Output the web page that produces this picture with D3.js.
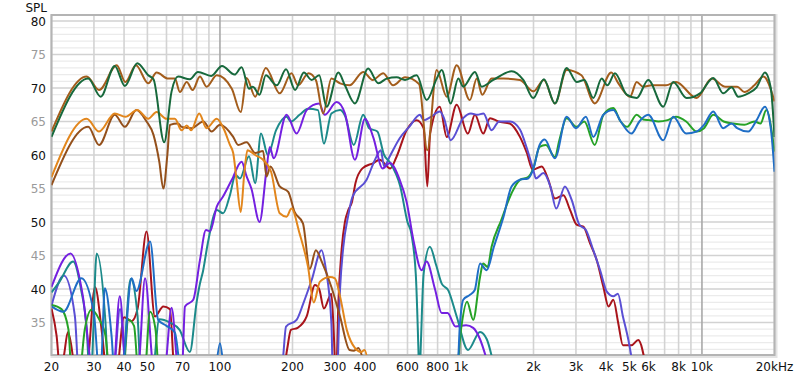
<!DOCTYPE html>
<html>
<head>
<script src="https://cdn.jsdelivr.net/npm/d3@7"></script>
<style>body{margin:0;background:#fff}</style>
</head>
<body>
<svg id="chart" width="800" height="378"></svg>
<script>
// grid + tick data
var gridFreqs = [20,30,40,50,60,70,80,90,100,200,300,400,500,600,700,800,900,1000,
  2000,3000,4000,5000,6000,7000,8000,9000,10000,20000];
var decadeFreqs = [100, 1000, 10000];
var xLabelFreqs = [20,30,40,50,70,100,200,300,400,600,800,1000,2000,3000,4000,5000,6000,8000,10000,20000];
var xLabelTexts = ["20","30","40","50","70","100","200","300","400","600","800","1k","2k","3k","4k","5k","6k","8k","10k","20kHz"];
var yLabels = [80,75,70,65,60,55,50,45,40,35];

// series: [Hz, dB SPL]
var sumGreen = [[20,62.7],[28.4,71.4],[32,68.7],[36.6,73.3],[40.3,70.3],[45.4,73.7],[50.4,71.9],[53,71.3],
  [58.7,61.9],[63,69.5],[67,71.7],[75,71.3],[81,72.4],[92,71.8],[102,73.3],[115,72.0],[123,73.1],[132,69.9],
  [137,70.2],[146,69.0],[155,71.9],[172,70.4],[188,72.8],[205,69.7],[223,72.3],[240,71.2],[258,71.9],[277,67.2],
  [310,72.3],[330,70.4],[363,67.7],[412,72.9],[454,70.7],[492,71.4],[541,71.6],[586,71.2],[655,71.9],[721,68.2],
  [793,71.4],[832,72.7],[907,67.7],[975,71.4],[1022,70.2],[1143,72.4],[1219,70.2],[1362,71.2],[1622,72.5],
  [1814,71.2],[1996,68.5],[2209,71.3],[2454,67.7],[2745,73.0],[3020,70.9],[3250,71.2],[3541,68.5],[3837,71.4],
  [4050,70.4],[4356,72.2],[4873,69.0],[5360,68.5],[5987,71.2],[6910,67.2],[7600,70.9],[8635,68.5],[9815,69.2],
  [11140,71.5],[12250,69.2],[13280,70.1],[14130,68.7],[15550,69.2],[16860,70.1],[18250,72.3],[19300,70.0],[20000,62.7]];

var sumBrown = [[20,63.5],[28,71.7],[31.5,69.7],[37.3,73.4],[40.5,70.9],[44.8,73.4],[50.4,70.7],[54.6,72.3],
  [61,71.4],[65,71.4],[68.2,69.4],[72.8,70.9],[77,69.7],[82.6,71.7],[88,70.2],[97,71.9],[112,69.9],[122,66.4],
  [129,71.5],[140,68.7],[155,73.0],[177,69.2],[198,72.2],[211,70.4],[233,72.2],[250,71.2],[268,66.2],[290,71.4],
  [315,70.7],[345,70.4],[393,72.4],[430,71.2],[476,72.2],[523,70.4],[586,71.6],[670,70.6],[725,60.7],[793,72.7],
  [873,68.7],[960,73.4],[1089,68.2],[1163,71.4],[1226,69.0],[1340,71.4],[1500,71.4],[1757,71.2],[1996,69.5],
  [2209,71.2],[2454,67.7],[2745,72.7],[3162,71.9],[3590,67.7],[4206,72.3],[4500,70.7],[5030,68.7],[5360,70.9],
  [5700,70.2],[6200,70.4],[7100,70.4],[7800,70.9],[9500,68.5],[10990,71.4],[12500,70.2],[14000,70.2],[15000,69.4],
  [16500,70.4],[18000,71.7],[20000,68.0]];

var wooferOrange = [[20,56.7],[28,65.4],[31.5,63.5],[36.6,66.2],[40.5,65.7],[45.4,66.7],[50.4,65.4],[54.6,66.4],
  [60,65.4],[65,65.4],[69.3,63.7],[72.8,64.4],[76,63.7],[82,66.2],[88,64.0],[97,65.4],[104,63.8],[110,61.5],
  [113.5,60.3],[117,56.5],[122,51.5],[126,57],[130,60.7],[140,60.0],[151,59.3],[163,57.5],[177,51.3],[189,50.8],
  [198,52.0],[214,48.3],[232,43.3],[245,38.0],[260,41.1],[286,41.8],[300,41.6],[315,38.9],[336,33.9],[363,31.2],
  [385,30.6],[398,30.9],[420,26]];

var wooferBrown = [[20,55.5],[28.4,64.2],[31.5,61.5],[36.6,66.0],[40.3,64.2],[45,66.7],[49.6,65.0],[53,63],
  [56,59],[58.2,55.0],[60.5,60],[62,64.5],[67,64.7],[69.3,64.2],[76.3,64.0],[85.3,65.0],[92.4,63.5],[100,64.5],
  [113.5,62.7],[119,61.5],[129,61.9],[140,60.3],[151,60.6],[156,56.8],[162,58.3],[177,55.3],[192,54.5],[204,51.5],
  [221,49.8],[236,43.0],[250,45.8],[265,44.0],[290,40.3],[315,35.9],[345,30.9],[360,30.8],[375,31.2],[395,29]];

var midPurple = [[20,40.3],[24,45.3],[27,38.9],[29.5,28],[33,26],[36,27],[38.4,38.9],[41,27],[44,26],[45.9,28],
  [48.9,41.6],[52.9,28],[56,26],[59.2,28],[63,37.2],[67,28],[69.4,27],[71.6,37.4],[77.5,38.4],[82.6,44.3],
  [87.5,48.8],[91,48.6],[97,52.3],[103,53.8],[112,56.3],[123,59.0],[129,56.8],[135,55.0],[146,50.0],[156,57.8],
  [161,61.2],[167,59.5],[189,66.0],[208,63.2],[229,66.7],[258,67.7],[272,66.0],[305,67.9],[330,66.2],[363,59.3],
  [400,65.4],[433,62.6],[473,58.0],[507,58.8],[557,56.3],[595,53],[635,47.3],[687,42.8],[720,44.1],[780,40],
  [832,36.4],[880,36.4],[950,34.4],[1050,34.6],[1124,34.2],[1200,32.5],[1290,29]];

var midTeal = [[20,39.5],[21.5,41],[24.6,44.1],[26.5,40],[28,34],[28.8,27],[29.3,28],[30.8,45.3],[33.5,35],
  [34.5,27],[38,26],[39.5,28],[42.6,41.5],[45.5,36],[47,27],[52,26],[56,35.5],[62,35],[68,33.9],[75,30.6],
  [80,38],[82.6,40.8],[85,42.6],[89,46.8],[97,51.8],[103,51.3],[110,54],[116,57.0],[121,56.5],[132,59.8],
  [140,55.8],[148,63.2],[158,60.0],[171,63.7],[189,65.7],[197,65.0],[214,66.0],[232,66.9],[255,66.7],[270,61.7],
  [290,66.2],[315,66.7],[330,65.9],[359,61.5],[393,66.0],[416,64.0],[450,63.5],[480,60.0],[505,59.0],[560,55.3],
  [600,50],[622,48.3],[650,42],[666,31],[672,26],[682,32],[700,42.3],[743,46.3],[790,43.5],[832,40.8],[886,39.8],
  [960,35.9],[1070,30.9],[1200,33.6],[1280,32.5],[1380,28]];

var midRed = [[20,37.1],[21,33],[21.7,28],[22.5,30],[23.4,33.6],[24.5,30],[25,27],[28,28],[30.3,40.3],[32.5,33],
  [34,27],[37,27],[40,35.8],[43,35.2],[45.5,37],[49.6,48.6],[53.7,35.9],[58.2,37.4],[62,37.0],[65,27],[100,25],
  [180,26],[190,31],[197,33.9],[210,34.2],[229,35.9],[248,40.6],[258,40.0],[270,37.1],[290,39.3],[297,33],
  [303,26],[310,38],[320,46],[330,50],[341,51.8],[353,53],[365,55.8],[390,58.0],[433,58.8],[460,59.3],[509,58.0],
  [540,59.7],[595,63.7],[655,65.2],[700,64],[725,55.3],[745,63.2],[817,67.2],[873,62.7],[960,67.5],[1068,63.2],
  [1143,66.0],[1237,63.2],[1320,65.5],[1430,65.0],[1594,64.7],[1757,62.7],[1877,60.3],[1985,57.8],[2163,58.3],
  [2305,56.3],[2454,53.5],[2660,54.0],[2836,51.8],[3020,49.6],[3220,49.3],[3434,46.8],[3660,44.3],[3900,40.3],
  [4095,37.4],[4287,38.4],[4495,34.9],[4700,31.6],[5100,31.6],[5440,32.4],[5880,28]];

var midViolet = [[20,37.5],[22.5,42.0],[25,36],[26,27],[36,27],[38.5,37.0],[41,27],[100,25],[178,26],[183,30],
  [188,34.4],[208,35.4],[222,37.9],[240,41.3],[264,45.8],[275,43.0],[290,34.9],[295,26],[305,26],[315,40],
  [325,46.3],[340,50.8],[355,53.8],[406,56.3],[440,59.3],[465,60.7],[480,58.3],[505,59.7],[557,62.5],[610,64.2],
  [676,66.0],[700,65.2],[750,65.7],[818,66.5],[850,65.5],[907,62.2],[1022,65.5],[1100,66.2],[1170,66.0],
  [1240,66.2],[1340,63.7],[1440,65.0],[1600,65.0],[1757,63.8],[1877,61.0],[1996,57.8],[2046,56.5],[2200,57.3],
  [2350,55.3],[2485,52.0],[2700,55.3],[2880,53.3],[3100,49.6],[3300,48.8],[3540,45.8],[3780,42.8],[4030,39.6],
  [4290,38.9],[4480,39.3],[4700,35.9],[4950,32.4],[5200,28]];

var tweetGreen = [[20,37.6],[22,37.0],[23.5,34],[24.3,27],[26,27],[27.5,34],[29.3,36.9],[31.5,35.5],[33.5,33],
  [35,27],[39.5,27],[41.7,35.4],[44,34.5],[46,27],[48.5,27],[51.3,36.6],[54,34],[56,27],[100,25],[950,26],
  [1000,33.9],[1060,38.1],[1124,35.4],[1200,41.8],[1236,43.8],[1290,43.3],[1340,46.3],[1470,50.3],[1622,54.3],
  [1757,56.3],[1900,56.7],[1996,58.0],[2120,61.2],[2250,61.5],[2454,59.7],[2560,62.2],[2745,65.5],[3020,64.2],
  [3250,65.0],[3590,61.5],[3900,66.0],[4287,67.0],[4600,65.0],[4900,64.2],[5360,66.0],[5700,65.3],[6100,65.2],
  [6600,65.0],[7200,65.2],[7800,65.7],[8600,65.0],[9500,63.5],[10200,64.0],[11140,66.0],[12300,65.0],
  [13500,64.7],[15000,64.5],[16500,65.0],[17500,64.7],[18500,66.7],[20000,60.5]];

var tweetBlue = [[20,37.4],[22.4,36.6],[26.6,41.6],[30,36.3],[31.5,28],[32,28],[33.3,40.1],[35.5,33],[36.6,27],
  [39,27],[43,41.6],[45,39.7],[51.3,47.1],[55.4,35.4],[60,34.5],[65,33.5],[69.4,27],[94,26],[100,31.9],[106,26],
  [960,26],[991,34.9],[1022,38.4],[1087,39.1],[1140,39.8],[1200,43.8],[1278,42.8],[1370,46.3],[1500,50.7],
  [1622,55.3],[1757,56.3],[1900,56.5],[2000,58],[2120,61.5],[2227,62.3],[2454,59.5],[2745,65.7],[3000,64.0],
  [3300,65.7],[3541,62.7],[3900,66.0],[4287,66.7],[4600,65.0],[5100,63.2],[5500,65.0],[5987,66.0],[6910,62.2],
  [7600,65.7],[8600,63.2],[9500,63.5],[10200,64.5],[11140,66.5],[12250,64.0],[13280,64.7],[14000,64.0],
  [15550,63.5],[16860,65.2],[18250,67.2],[19300,64],[20000,57.5]];

var seriesList = [
  {data: midRed, color: "#a8141b"},
  {data: midViolet, color: "#5a4fd4"},
  {data: midTeal, color: "#1c8a8a"},
  {data: midPurple, color: "#7420e0"},
  {data: tweetGreen, color: "#26a226"},
  {data: tweetBlue, color: "#1f6ec6"},
  {data: wooferBrown, color: "#94501b"},
  {data: wooferOrange, color: "#e2861c"},
  {data: sumBrown, color: "#a35d1c"},
  {data: sumGreen, color: "#17693c"}
];

var L = 51.5, R = 774.5, T = 15, B = 355;
var svg = d3.select("#chart");
var x = d3.scaleLog().domain([20, 20000]).range([L, R]);
var y = d3.scaleLinear().domain([30, 80]).range([356, 21]);

svg.append("defs").append("clipPath").attr("id", "plotclip")
  .append("rect").attr("x", L).attr("y", T).attr("width", R - L).attr("height", B - T);

// frame shadow
svg.append("rect").attr("x", L - 1).attr("y", T - 1).attr("width", R - L + 4).attr("height", B - T + 4)
  .attr("fill", "#e4e4e4");
svg.append("rect").attr("x", L).attr("y", T).attr("width", R - L).attr("height", B - T).attr("fill", "#fff");

// horizontal grid
var hg = svg.append("g");
d3.range(31, 81).forEach(function(v) {
  hg.append("line").attr("x1", L).attr("x2", R).attr("y1", y(v)).attr("y2", y(v))
    .attr("stroke", v % 5 == 0 ? "#d2d2d2" : "#ebebeb").attr("stroke-width", v % 5 == 0 ? 1.6 : 1.2);
});
// vertical grid
var vg = svg.append("g");
gridFreqs.forEach(function(f) {
  var dec = decadeFreqs.indexOf(f) >= 0;
  vg.append("line").attr("x1", x(f)).attr("x2", x(f)).attr("y1", T).attr("y2", B)
    .attr("stroke", dec ? "#a9a9a9" : "#d3d3d3").attr("stroke-width", 1.6);
});

// frame
svg.append("rect").attr("x", L).attr("y", T).attr("width", R - L).attr("height", B - T)
  .attr("fill", "none").attr("stroke", "#b4b4b4").attr("stroke-width", 2);

// curves
var lineMaker = d3.line().x(function(d) { return x(d[0]); }).y(function(d) { return y(d[1]); })
  .curve(d3.curveMonotoneX);
svg.append("g").attr("clip-path", "url(#plotclip)")
  .selectAll("path").data(seriesList).enter().append("path")
  .attr("d", function(d) { return lineMaker(d.data); })
  .attr("fill", "none").attr("stroke", function(d) { return d.color; })
  .attr("stroke-width", 2).attr("stroke-linejoin", "round");

// y labels
svg.append("g").selectAll("text").data(yLabels).enter().append("text")
  .attr("x", 46).attr("y", function(d) { return y(d) + 4.5; })
  .attr("text-anchor", "end").attr("font-family", "DejaVu Sans, sans-serif").attr("font-size", 12)
  .attr("fill", function(d) { return d % 10 == 0 ? "#111" : "#9a9a9a"; })
  .text(function(d) { return d; });
svg.append("text").attr("x", 47).attr("y", 12).attr("text-anchor", "end")
  .attr("font-family", "DejaVu Sans, sans-serif").attr("font-size", 12).attr("fill", "#111").text("SPL");

// x labels
svg.append("g").selectAll("text").data(xLabelFreqs).enter().append("text")
  .attr("x", function(d) { return x(d); }).attr("y", 371)
  .attr("text-anchor", "middle").attr("font-family", "DejaVu Sans, sans-serif").attr("font-size", 12)
  .attr("fill", "#111")
  .text(function(d, i) { return xLabelTexts[i]; });
</script>
</body>
</html>
